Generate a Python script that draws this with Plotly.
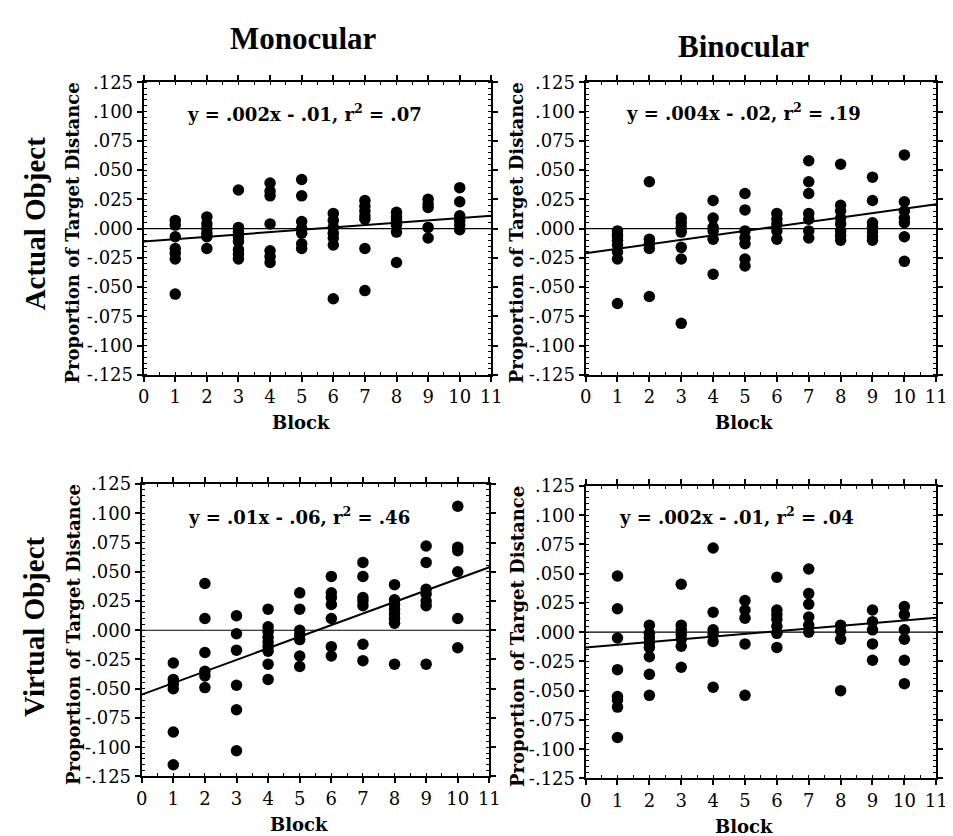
import plotly.graph_objects as go

# ---------------- data ----------------
blocks = [1, 2, 3, 4, 5, 6, 7, 8, 9, 10]

actual_mono = [
    [.007, .003, -.007, -.017, -.021, -.026, -.056],
    [.010, .004, .000, -.004, -.007, -.017],
    [.033, .001, -.003, -.007, -.011, -.018, -.022, -.026],
    [.039, .032, .028, .004, -.019, -.024, -.029],
    [.042, .028, .006, .000, -.004, -.013, -.017],
    [.013, .007, .001, -.004, -.008, -.014, -.060],
    [.024, .019, .015, .011, .008, -.017, -.053],
    [.014, .010, .007, .003, -.003, -.029],
    [.025, .021, .018, .001, -.008],
    [.035, .023, .011, .007, .003, -.001],
]
actual_bino = [
    [-.002, -.005, -.007, -.010, -.014, -.020, -.026, -.064],
    [.040, -.009, -.013, -.017, -.058],
    [.009, .005, .001, -.003, -.016, -.026, -.081],
    [.024, .009, .001, -.002, -.009, -.039],
    [.030, .016, -.002, -.008, -.013, -.026, -.032],
    [.013, .008, .004, -.002, -.009],
    [.058, .040, .030, .013, .008, -.002, -.008],
    [.055, .020, .015, .009, .004, -.002, -.006, -.010],
    [.044, .024, .005, .001, -.003, -.007, -.010],
    [.063, .023, .015, .009, .005, -.007, -.028],
]
virtual_mono = [
    [-.028, -.042, -.046, -.050, -.087, -.115],
    [.040, .010, -.019, -.035, -.039, -.049],
    [.0125, -.003, -.017, -.047, -.068, -.103],
    [.018, .003, -.001, -.006, -.010, -.014, -.018, -.029, -.042],
    [.032, .018, .000, -.004, -.008, -.022, -.031],
    [.046, .032, .028, .022, .010, -.014, -.022],
    [.058, .046, .028, .025, .021, -.012, -.026],
    [.039, .026, .022, .018, .014, .010, .006, -.029],
    [.072, .058, .035, .031, .025, .021, -.029],
    [.106, .071, .068, .050, .010, -.015],
]
virtual_bino = [
    [.048, .020, -.005, -.032, -.055, -.058, -.064, -.090],
    [.006, -.001, -.005, -.009, -.013, -.021, -.036, -.054],
    [.041, .006, .002, -.002, -.006, -.012, -.030],
    [.072, .017, .002, -.002, -.008, -.047],
    [.027, .019, .012, -.010, -.054],
    [.047, .019, .015, .011, .005, -.001, -.013],
    [.054, .033, .024, .013, .006, .000],
    [.006, .001, -.006, -.050],
    [.019, .009, .002, -.010, -.024],
    [.022, .015, .002, -.006, -.024, -.044],
]

# fitted line (slope, intercept) as drawn in each panel
fit_lines = [(.002, -.011), (.0038, -.021), (.0099, -.055), (.0023, -.013)]
equations = [
    "y = .002x - .01, r<sup>2</sup> = .07",
    "y = .004x - .02, r<sup>2</sup> = .19",
    "y = .01x - .06, r<sup>2</sup> = .46",
    "y = .002x - .01, r<sup>2</sup> = .04",
]
column_titles = ["Monocular", "Binocular"]
row_titles = ["Actual Object", "Virtual Object"]

x_ticks = list(range(0, 12))
y_ticks = [.125, .100, .075, .050, .025, .000, -.025, -.050, -.075, -.100, -.125]
y_tick_text = [".125", ".100", ".075", ".050", ".025", ".000",
               "-.025", "-.050", "-.075", "-.100", "-.125"]

panels = [actual_mono, actual_bino, virtual_mono, virtual_bino]

# ---------------- layout geometry ----------------
W, H = 953, 836
# pixel boxes (left, right, top, bottom)
boxes = [(132, 486, 65, 365), (582, 939, 65, 365),
         (130, 484, 477, 777), (582, 939, 479, 779)]
eq_pos = [(1.3, .099), (1.2, .100), (1.4, .0975), (1.0, .099)]

SERIF = "DejaVu Serif"
fig = go.Figure()

for i, data in enumerate(panels):
    ax = "" if i == 0 else str(i + 1)
    xs, ys = [], []
    for b, vals in zip(blocks, data):
        xs += [b] * len(vals)
        ys += vals
    slope, icpt = fit_lines[i]
    fig.add_trace(go.Scatter(x=[0, 11], y=[0, 0], mode="lines",
                             line=dict(color="black", width=1.2),
                             xaxis="x" + ax, yaxis="y" + ax, showlegend=False,
                             hoverinfo="skip"))
    fig.add_trace(go.Scatter(x=[0, 11], y=[icpt, icpt + slope * 11], mode="lines",
                             line=dict(color="black", width=2),
                             xaxis="x" + ax, yaxis="y" + ax, showlegend=False,
                             hoverinfo="skip"))
    fig.add_trace(go.Scatter(x=xs, y=ys, mode="markers",
                             marker=dict(color="black", size=11.5),
                             xaxis="x" + ax, yaxis="y" + ax, showlegend=False))
    l, r, t, btm = boxes[i]
    common = dict(showgrid=False, zeroline=False, showline=True, linecolor="black",
                  linewidth=2, mirror="ticks", ticks="outside", ticklen=5,
                  tickwidth=1.5, tickcolor="black",
                  tickfont=dict(family=SERIF, size=18, color="black"))
    fig.layout["xaxis" + ax] = dict(
        common, domain=[l / W, r / W], range=[0, 11], tickvals=x_ticks,
        anchor="y" + ax,
        minor=dict(ticks="inside", dtick=0.5, ticklen=3, tickcolor="black", tickwidth=1))
    fig.layout["yaxis" + ax] = dict(
        common, domain=[1 - btm / H, 1 - t / H], range=[-.125, .125],
        tickvals=y_ticks, ticktext=y_tick_text, anchor="x" + ax,
        minor=dict(ticks="inside", dtick=0.005, ticklen=3, tickcolor="black", tickwidth=1))
    ex, ey = eq_pos[i]
    fig.add_annotation(x=ex, y=ey, xref="x" + ax, yref="y" + ax, text=equations[i],
                       showarrow=False, xanchor="left", yanchor="middle",
                       font=dict(family=SERIF, size=18, color="black", weight="bold"))
    # axis titles
    ytx = 60 if i in (0, 2) else 512
    fig.add_annotation(x=ytx / W, y=1 - ((t + btm) / 2 + 4) / H, xref="paper", yref="paper",
                       text="Proportion of Target Distance", textangle=-90,
                       showarrow=False, xanchor="center", yanchor="middle",
                       font=dict(family=SERIF, size=18, color="black", weight="bold"))
    fig.add_annotation(x=((l + r) / 2 - 17) / W, y=1 - (btm + 49) / H, xref="paper", yref="paper",
                       text="Block", showarrow=False, xanchor="center", yanchor="middle",
                       font=dict(family=SERIF, size=18, color="black", weight="bold"))

# column and row titles
for txt, cx, cy in zip(column_titles, [295, 743], [20, 28]):
    fig.add_annotation(x=cx / W, y=1 - cy / H, xref="paper", yref="paper", text=txt,
                       showarrow=False, xanchor="center", yanchor="middle",
                       font=dict(family="Liberation Serif", size=31, color="black", weight="bold"))
for txt, cy in zip(row_titles, [210, 624]):
    fig.add_annotation(x=21 / W, y=1 - cy / H, xref="paper", yref="paper", text=txt,
                       textangle=-90, showarrow=False, xanchor="center", yanchor="middle",
                       font=dict(family="Liberation Serif", size=29, color="black", weight="bold"))

fig.update_layout(width=W, height=H, margin=dict(l=0, r=0, t=0, b=0),
                  paper_bgcolor="white", plot_bgcolor="white")
fig.write_html("out.html")
